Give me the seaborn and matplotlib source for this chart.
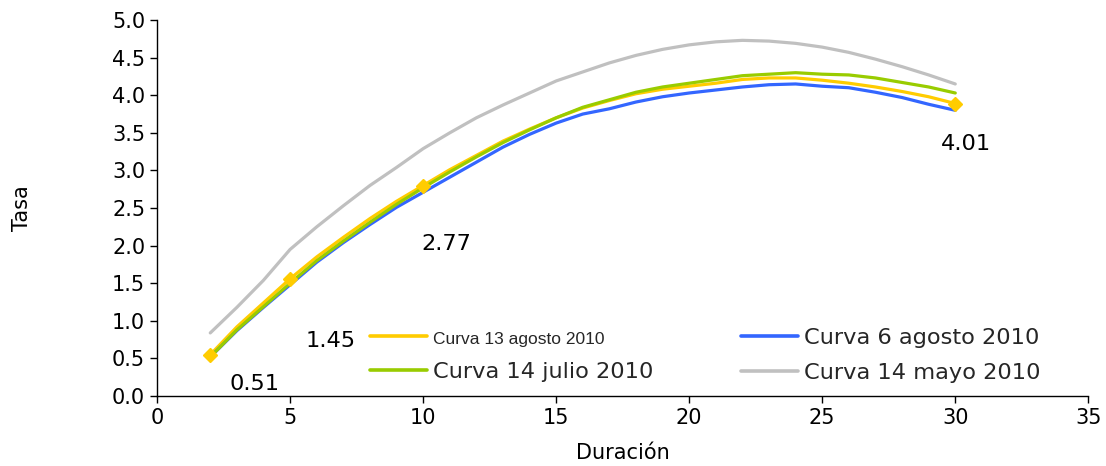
import pandas as pd
import seaborn as sns
import matplotlib.pyplot as plt
from matplotlib.ticker import FormatStrFormatter

# durations (years) and curve rates
duracion = list(range(2, 31))

curva_13_ago = [0.55, 0.92, 1.24, 1.56, 1.85, 2.11, 2.36, 2.59, 2.80, 3.01,
                3.20, 3.39, 3.55, 3.70, 3.83, 3.93, 4.02, 4.08, 4.12, 4.16,
                4.21, 4.23, 4.23, 4.20, 4.16, 4.11, 4.05, 3.98, 3.89]
curva_6_ago = [0.52, 0.87, 1.18, 1.48, 1.78, 2.04, 2.28, 2.51, 2.71, 2.91,
               3.11, 3.31, 3.48, 3.63, 3.75, 3.82, 3.91, 3.98, 4.03, 4.07,
               4.11, 4.14, 4.15, 4.12, 4.10, 4.04, 3.97, 3.88, 3.80]
curva_14_jul = [0.52, 0.88, 1.19, 1.50, 1.80, 2.06, 2.31, 2.55, 2.77, 2.98,
                3.18, 3.37, 3.54, 3.70, 3.84, 3.94, 4.04, 4.11, 4.16, 4.21,
                4.26, 4.28, 4.30, 4.28, 4.27, 4.23, 4.17, 4.11, 4.03]
curva_14_may = [0.84, 1.18, 1.54, 1.95, 2.25, 2.53, 2.80, 3.04, 3.29, 3.50,
                3.70, 3.87, 4.03, 4.19, 4.31, 4.43, 4.53, 4.61, 4.67, 4.71,
                4.73, 4.72, 4.69, 4.64, 4.57, 4.48, 4.38, 4.27, 4.15]

# yellow curve points with data labels
label_dur = [2, 5, 10, 30]
label_txt = ["0.51", "1.45", "2.77", "4.01"]
label_off = [(32, -21), (29, -45), (17, -42), (8, -29)]  # points

series = {
    "Curva 13 agosto 2010": curva_13_ago,
    "Curva 6 agosto 2010": curva_6_ago,
    "Curva 14 julio 2010": curva_14_jul,
    "Curva 14 mayo 2010": curva_14_may,
}
colors = {
    "Curva 13 agosto 2010": "#FFCC00",
    "Curva 6 agosto 2010": "#3366FF",
    "Curva 14 julio 2010": "#99CC00",
    "Curva 14 mayo 2010": "#C0C0C0",
}

df = pd.DataFrame([
    {"Duración": d, "Tasa": v, "Curva": name}
    for name, vals in series.items()
    for d, v in zip(duracion, vals)
])

FS_TICK = 15
FS_TEXT = 16.2

sns.set_style("white")
plt.rcParams['font.family'] = ['DejaVu Sans']

fig = plt.figure(figsize=(11.06, 4.66), dpi=100)
ax = fig.add_axes([0.142, 0.150, 0.842, 0.807])

sns.lineplot(data=df, x="Duración", y="Tasa", hue="Curva",
             hue_order=list(series.keys()), palette=colors,
             linewidth=2.3, ax=ax, legend=False)

yel = dict(zip(duracion, curva_13_ago))
ax.plot(label_dur, [yel[d] for d in label_dur], linestyle="none",
        marker="D", markersize=7, color="#FFCC00", zorder=5)
for d, t, off in zip(label_dur, label_txt, label_off):
    ax.annotate(t, (d, yel[d]), xytext=off, textcoords="offset points",
                ha="center", va="center", fontsize=FS_TEXT, color="black")

ax.set_xlim(0, 35)
ax.set_ylim(0, 5)
ax.set_xticks(range(0, 36, 5))
ax.set_yticks([i * 0.5 for i in range(11)])
ax.yaxis.set_major_formatter(FormatStrFormatter("%.1f"))
ax.tick_params(axis="both", direction="out", length=5, width=1,
               labelsize=FS_TICK, color="black", labelcolor="black",
               left=True, bottom=True)
for s in ["top", "right"]:
    ax.spines[s].set_visible(False)
for s in ["left", "bottom"]:
    ax.spines[s].set_color("black")
    ax.spines[s].set_linewidth(1)

ax.set_xlabel("Duración", fontsize=FS_TICK, labelpad=11, color="black")
ax.set_ylabel("Tasa", fontsize=FS_TICK, labelpad=58, color="black")

handles = [plt.Line2D([], [], color=colors[n], linewidth=2.6) for n in series]
order = [0, 2, 1, 3]
leg = ax.legend([handles[i] for i in order],
                [list(series.keys())[i] for i in order],
                ncol=2, loc="lower left", bbox_to_anchor=(0.229, 0.036),
                frameon=False, fontsize=FS_TEXT, handlelength=2.5,
                handletextpad=0.3, columnspacing=3.9, labelspacing=0.66,
                borderpad=0, borderaxespad=0)
first = leg.get_texts()[0]
first.set_fontsize(12.5)
first.set_fontfamily(["Liberation Sans Narrow", "Liberation Sans", "DejaVu Sans"])

fig.savefig("out.png", dpi=100)
